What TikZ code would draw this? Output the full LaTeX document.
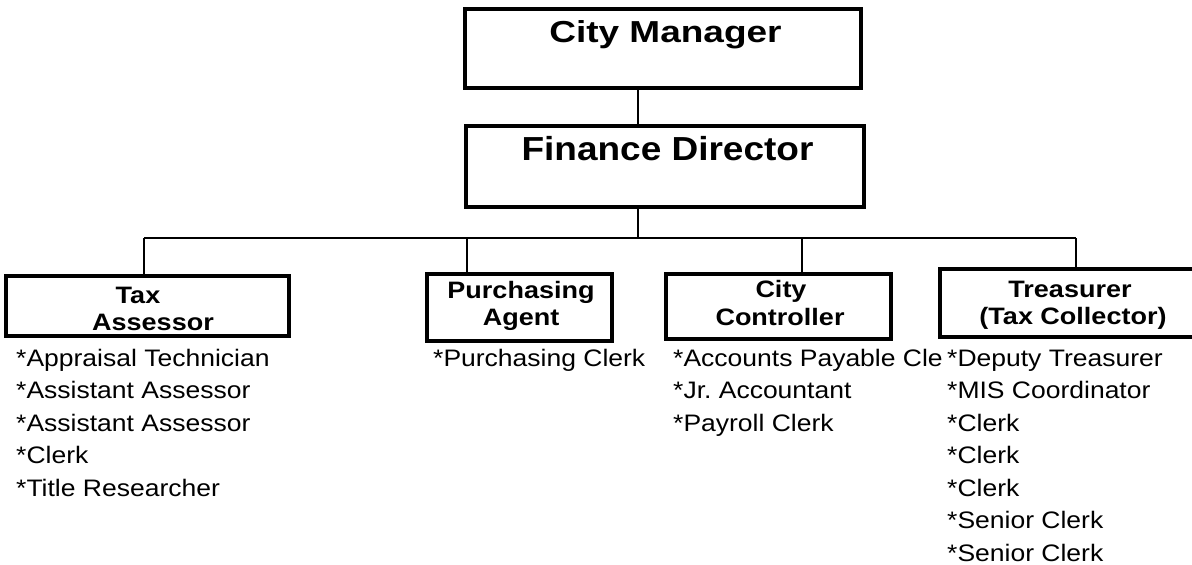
\documentclass[tikz,border=0pt]{standalone}
\usepackage{graphicx}
\usepackage{fontspec}
\setmainfont{Liberation Sans}
\frenchspacing
\newcommand\squash[2]{\scalebox{1}[#1]{#2}}
\begin{document}
\begin{tikzpicture}[x=1pt,y=-1pt,
  box/.style={draw, line width=3.7pt, rectangle, inner sep=0pt},
  conn/.style={line width=1.6pt},
  head/.style={font=\fontsize{37}{40}\selectfont\bfseries, anchor=base, inner sep=0pt},
  title/.style={font=\fontsize{27}{28}\selectfont\bfseries, anchor=base, inner sep=0pt},
  item/.style={font=\fontsize{26.5}{30}\selectfont, anchor=base west, inner sep=0pt}]
\useasboundingbox (0,0) rectangle (1192,565);

% boxes
\node[box, minimum width=396pt, minimum height=79pt] (cm) at (663,48.5) {};
\node[box, minimum width=398pt, minimum height=81pt] (fd) at (665,166.5) {};
\node[box, minimum width=283pt, minimum height=60pt] (ta) at (147.5,306) {};
\node[box, minimum width=185pt, minimum height=67pt] (pa) at (519.5,307.5) {};
\node[box, minimum width=225pt, minimum height=65pt] (cc) at (778.5,306.5) {};
\node[box, minimum width=255pt, minimum height=68pt] (tr) at (1067.5,303) {};

% box texts
\node[head] (cmt) at (665.5,42) {\squash{0.82}{City Manager}};
\node[head] (fdt) at (667.5,160) {\squash{0.9}{Finance Director}};
\node[title] (ta1) at (138,303) {\squash{0.88}{Tax}};
\node[title] (ta2) at (153,330) {\squash{0.88}{Assessor}};
\node[title] (pa1) at (521,298) {\squash{0.88}{Purchasing}};
\node[title] (pa2) at (521,325) {\squash{0.88}{Agent}};
\node[title] (cc1) at (781,297) {\squash{0.88}{City}};
\node[title] (cc2) at (780,325) {\squash{0.88}{Controller}};
\node[title] (tr1) at (1070,297) {\squash{0.88}{Treasurer}};
\node[title] (tr2) at (1073,324) {\squash{0.88}{(Tax Collector)}};

% connectors
\coordinate (bus) at (638,238);
\coordinate (dta) at (144,238);
\coordinate (dpa) at (467,238);
\coordinate (dcc) at (802,238);
\coordinate (dtr) at (1076,238);
\draw[conn] (cm.south -| bus) -- (fd.north -| bus);
\draw[conn] (fd.south -| bus) -- (bus);
\draw[conn] (dta) -- (dtr);
\draw[conn] (dta) -- (dta |- ta.north);
\draw[conn] (dpa) -- (dpa |- pa.north);
\draw[conn] (dcc) -- (dcc |- cc.north);
\draw[conn] (dtr) -- (dtr |- tr.north);

% lists
\foreach \t [count=\i from 0] in {*Appraisal Technician,*Assistant Assessor,*Assistant Assessor,*Clerk,*Title Researcher}
  \node[item] (tal\i) at (16,{366+32.5*\i}) {\squash{0.9}{\t}};
\node[item] (pal0) at (433,366) {\squash{0.9}{*Purchasing Clerk}};
\foreach \t [count=\i from 0] in {*Accounts Payable Cle,*Jr. Accountant,*Payroll Clerk}
  \node[item] (ccl\i) at (673,{366+32.5*\i}) {\squash{0.9}{\t}};
\foreach \t [count=\i from 0] in {*Deputy Treasurer,*MIS Coordinator,*Clerk,*Clerk,*Clerk,*Senior Clerk,*Senior Clerk}
  \node[item] (trl\i) at (947,{366+32.5*\i}) {\squash{0.9}{\t}};
\end{tikzpicture}
\end{document}
